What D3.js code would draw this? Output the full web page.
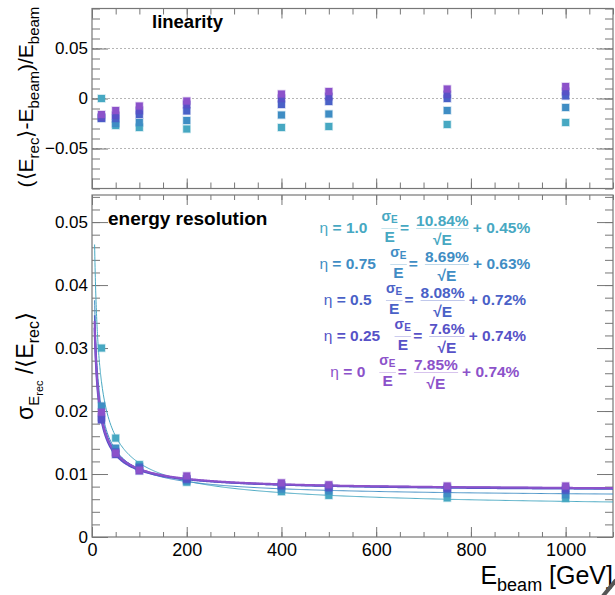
<!DOCTYPE html>
<html>
<head>
<meta charset="utf-8">
<script src="https://cdn.jsdelivr.net/npm/d3@7"></script>
<style>
  body { margin: 0; background: #fff; }
  svg { display: block; font-family: "Liberation Sans", Arial, Helvetica, sans-serif; }
  .tick text { font-size: 17px; fill: #000; }
  .tick line { stroke: #777; }
</style>
</head>
<body>
<div id="vis"></div>
<script>
// Energies des faisceaux (GeV)
const energies = [20, 50, 100, 200, 400, 500, 750, 1000];

// Séries (eta)
const etaLabels = ["1.0", "0.75", "0.5", "0.25", "0"];
const colors = ["#47a8c2", "#3f8dc4", "#4a61c7", "#5752c7", "#8c52ca"];

// Linéarité (<E_rec>-E_beam)/E_beam
const linEta100 = [0.000, -0.027, -0.029, -0.0305, -0.029, -0.028, -0.026, -0.024];
const linEta075 = [-0.019, -0.025, -0.024, -0.022, -0.0165, -0.0155, -0.012, -0.009];
const linEta050 = [-0.020, -0.020, -0.016, -0.0125, -0.006, -0.003, 0.000, 0.0025];
const linEta025 = [-0.019, -0.017, -0.012, -0.006, 0.000, 0.002, 0.004, 0.007];
const linEta000 = [-0.016, -0.012, -0.0075, -0.0025, 0.0045, 0.007, 0.0095, 0.012];

// Résolution sigma/<E_rec>
const resEta100 = [0.0300, 0.0157, 0.0115, 0.0087, 0.0072, 0.0066, 0.0062, 0.0061];
const resEta075 = [0.0208, 0.0141, 0.0112, 0.0089, 0.0076, 0.0073, 0.0069, 0.0067];
const resEta050 = [0.0190, 0.0135, 0.0110, 0.0092, 0.0081, 0.0078, 0.0076, 0.0074];
const resEta025 = [0.0186, 0.0131, 0.0105, 0.0092, 0.0082, 0.0080, 0.0078, 0.0077];
const resEta000 = [0.0198, 0.0133, 0.0106, 0.0097, 0.0086, 0.0083, 0.0081, 0.0081];

// Paramètres du fit: sigma/E = a/sqrt(E) (+) b
const stochastic = [0.1084, 0.0869, 0.0808, 0.076, 0.0785];
const constant = [0.0045, 0.0063, 0.0072, 0.0074, 0.0074];

// Axes
const xMajor = [0, 200, 400, 600, 800, 1000];
const xMinor = d3.range(0, 1101, 50);
const linMajor = [-0.05, 0, 0.05];
const linMinor = d3.range(-9, 10).map(d => d / 100);
const resMajor = [0, 0.01, 0.02, 0.03, 0.04, 0.05];
const resMinor = d3.range(0, 28).map(d => d * 0.002);

const linearity = [linEta100, linEta075, linEta050, linEta025, linEta000];
const resolution = [resEta100, resEta075, resEta050, resEta025, resEta000];

// ––––––––––––––––––––––––––––––––––––––––––––––––––––––––

const svg = d3.select("#vis").append("svg").attr("width", 615).attr("height", 595);

const x = d3.scaleLinear().domain([0, 1100]).range([92, 613]);
const yLin = d3.scaleLinear().domain([-0.09, 0.09]).range([188.5, 8.5]);
const yRes = d3.scaleLinear().domain([0, 0.0543]).range([537, 195]);

const fmtLin = v => v === 0 ? "0" : (v < 0 ? "\u2212" : "") + Math.abs(v).toFixed(2);
const fmtRes = v => v === 0 ? "0" : v.toFixed(2);

function addAxis(gen, tx, ty, labels) {
  const g = svg.append("g").attr("transform", `translate(${tx},${ty})`).call(gen);
  g.select(".domain").remove();
  if (!labels) g.selectAll("text").remove();
  return g;
}

// Grille pointillée (linéarité)
svg.append("g")
  .selectAll("line")
  .data(linMajor)
  .enter()
  .append("line")
  .attr("x1", x(0)).attr("x2", x(1100))
  .attr("y1", d => yLin(d)).attr("y2", d => yLin(d))
  .attr("stroke", "#b5b5b5")
  .attr("stroke-dasharray", "2,2");

// Panneau haut: ticks
addAxis(d3.axisLeft(yLin).tickValues(linMinor).tickSize(-8).tickSizeOuter(0), 92, 0, false);
addAxis(d3.axisLeft(yLin).tickValues(linMajor).tickSize(-16).tickSizeOuter(0).tickPadding(4).tickFormat(fmtLin), 92, 0, true);
addAxis(d3.axisRight(yLin).tickValues(linMinor).tickSize(-8).tickSizeOuter(0), 613, 0, false);
addAxis(d3.axisRight(yLin).tickValues(linMajor).tickSize(-16).tickSizeOuter(0), 613, 0, false);
addAxis(d3.axisBottom(x).tickValues(xMinor).tickSize(-6).tickSizeOuter(0), 0, 188.5, false);
addAxis(d3.axisBottom(x).tickValues(xMajor).tickSize(-10).tickSizeOuter(0), 0, 188.5, false);
addAxis(d3.axisTop(x).tickValues(xMinor).tickSize(-6).tickSizeOuter(0), 0, 8.5, false);
addAxis(d3.axisTop(x).tickValues(xMajor).tickSize(-10).tickSizeOuter(0), 0, 8.5, false);

// Panneau bas: ticks
addAxis(d3.axisLeft(yRes).tickValues(resMinor).tickSize(-8).tickSizeOuter(0), 92, 0, false);
addAxis(d3.axisLeft(yRes).tickValues(resMajor).tickSize(-16).tickSizeOuter(0).tickPadding(4).tickFormat(fmtRes), 92, 0, true);
addAxis(d3.axisRight(yRes).tickValues(resMinor).tickSize(-8).tickSizeOuter(0), 613, 0, false);
addAxis(d3.axisRight(yRes).tickValues(resMajor).tickSize(-16).tickSizeOuter(0), 613, 0, false);
addAxis(d3.axisBottom(x).tickValues(xMinor).tickSize(-5).tickSizeOuter(0), 0, 537, false);
const xAx = addAxis(d3.axisBottom(x).tickValues(xMajor).tickSize(-10).tickSizeOuter(0).tickPadding(6).tickFormat(d3.format("d")), 0, 537, true);
xAx.selectAll("text").style("font-size", "18px");
addAxis(d3.axisTop(x).tickValues(xMinor).tickSize(-5).tickSizeOuter(0), 0, 195, false);
addAxis(d3.axisTop(x).tickValues(xMajor).tickSize(-10).tickSizeOuter(0), 0, 195, false);

// Cadres
svg.append("rect").attr("x", 92).attr("y", 8.5).attr("width", 521).attr("height", 180)
  .attr("fill", "none").attr("stroke", "#777").attr("stroke-width", 1.2);
svg.append("rect").attr("x", 92).attr("y", 195).attr("width", 521).attr("height", 342)
  .attr("fill", "none").attr("stroke", "#777").attr("stroke-width", 1.2);

// Clip bas
svg.append("clipPath").attr("id", "clipRes")
  .append("rect").attr("x", 92).attr("y", 195).attr("width", 521).attr("height", 342);

// Courbes de fit
const eGrid = d3.range(5.5, 20, 0.25).concat(d3.range(20, 1100.5, 2));
const line = d3.line().x(d => x(d[0])).y(d => yRes(d[1]));
const widths = [1, 1, 1.4, 2, 2];
const curves = svg.append("g").attr("clip-path", "url(#clipRes)");
stochastic.forEach((a, k) => {
  const b = constant[k];
  const pts = eGrid.map(e => [e, Math.sqrt(a * a / e + b * b)]);
  curves.append("path")
    .attr("d", line(pts))
    .attr("fill", "none")
    .attr("stroke", colors[k])
    .attr("stroke-width", widths[k]);
});

// Marqueurs
function markers(series, y) {
  series.forEach((vals, k) => {
    svg.append("g")
      .selectAll("rect")
      .data(vals)
      .enter()
      .append("rect")
      .attr("x", (d, i) => x(energies[i]) - 3.5)
      .attr("y", d => y(d) - 3.5)
      .attr("width", 7)
      .attr("height", 7)
      .attr("fill", colors[k])
      .attr("stroke", colors[k])
      .attr("stroke-opacity", 0.3)
      .attr("stroke-width", 1.5);
  });
}
markers(linearity, yLin);
markers(resolution, yRes);

// Titres des panneaux
svg.append("text").attr("x", 152).attr("y", 28)
  .style("font-size", "18.5px").style("font-weight", "bold").text("linearity");
svg.append("text").attr("x", 108).attr("y", 225)
  .style("font-size", "19px").style("font-weight", "bold").text("energy resolution");

// Formules
function formulaRow(k, yBase) {
  const col = colors[k];
  const g = svg.append("g").attr("fill", col).style("font-weight", "bold");
  let cx = 0;

  const t1 = g.append("text").attr("x", cx).attr("y", 0).style("font-size", "15.5px");
  t1.append("tspan").style("font-weight", "normal").text("η");
  t1.append("tspan").text(" = " + etaLabels[k]);
  cx += t1.node().getBBox().width + 14;

  // sigma_E / E
  const num = g.append("text").attr("y", -12).style("font-size", "14px");
  num.append("tspan").text("σ");
  num.append("tspan").style("font-size", "10px").attr("dy", 2).text("E");
  const den = g.append("text").attr("y", 9).style("font-size", "15.5px").text("E");
  const wn = num.node().getBBox().width, wd = den.node().getBBox().width;
  const wf = Math.max(wn, wd);
  num.attr("x", cx + (wf - wn) / 2);
  den.attr("x", cx + (wf - wd) / 2);
  g.append("line").attr("x1", cx).attr("x2", cx + wf).attr("y1", -4.5).attr("y2", -4.5)
    .attr("stroke", col).attr("stroke-opacity", 0.3);
  cx += wf + 2;

  const eq = g.append("text").attr("x", cx).attr("y", 0).style("font-size", "15.5px").text("=");
  cx += eq.node().getBBox().width + 7;

  // a% / sqrt(E)
  const num2 = g.append("text").attr("y", -7).style("font-size", "15.5px")
    .text(+(stochastic[k] * 100).toFixed(2) + "%");
  const den2 = g.append("text").attr("y", 12).style("font-size", "15.5px").text("√E");
  const wn2 = num2.node().getBBox().width, wd2 = den2.node().getBBox().width;
  const wf2 = Math.max(wn2, wd2);
  num2.attr("x", cx + (wf2 - wn2) / 2);
  den2.attr("x", cx + (wf2 - wd2) / 2);
  g.append("line").attr("x1", cx).attr("x2", cx + wf2).attr("y1", -4.5).attr("y2", -4.5)
    .attr("stroke", col).attr("stroke-opacity", 0.35);
  cx += wf2 + 4;

  const t3 = g.append("text").attr("x", cx).attr("y", 0).style("font-size", "15.5px")
    .text("+ " + (constant[k] * 100).toFixed(2) + "%");
  const total = cx + t3.node().getBBox().width;

  g.attr("transform", `translate(${425 - total / 2},${yBase})`);
}
etaLabels.forEach((d, k) => formulaRow(k, 233 + 36 * k));

// Titres des axes
const tTop = svg.append("text")
  .attr("transform", "translate(33,97) rotate(-90)")
  .attr("text-anchor", "middle")
  .style("font-size", "21px");
tTop.append("tspan").text("(⟨E");
tTop.append("tspan").style("font-size", "15px").attr("dy", 6).text("rec");
tTop.append("tspan").attr("dy", -6).text("⟩-E");
tTop.append("tspan").style("font-size", "15px").attr("dy", 6).text("beam");
tTop.append("tspan").attr("dy", -6).text(")/E");
tTop.append("tspan").style("font-size", "15px").attr("dy", 6).text("beam");

const tBot = svg.append("text")
  .attr("transform", "translate(33,366) rotate(-90)")
  .attr("text-anchor", "middle")
  .style("font-size", "23px");
tBot.append("tspan").text("σ");
tBot.append("tspan").style("font-size", "15px").attr("dy", 6).text("E");
tBot.append("tspan").style("font-size", "11px").attr("dy", 4).text("rec");
tBot.append("tspan").attr("dy", -10).text(" /⟨E");
tBot.append("tspan").style("font-size", "16px").attr("dy", 6).text("rec");
tBot.append("tspan").attr("dy", -6).text("⟩");

const tX = svg.append("text")
  .attr("x", 613).attr("y", 584)
  .attr("text-anchor", "end")
  .style("font-size", "25px");
tX.append("tspan").text("E");
tX.append("tspan").style("font-size", "18px").attr("dy", 7).text("beam");
tX.append("tspan").attr("dy", -7).text(" [GeV]");

// Trait gris en bas à droite
svg.append("line").attr("x1", 603).attr("y1", 596).attr("x2", 616).attr("y2", 580)
  .attr("stroke", "#555").attr("stroke-width", 4);
</script>
</body>
</html>
